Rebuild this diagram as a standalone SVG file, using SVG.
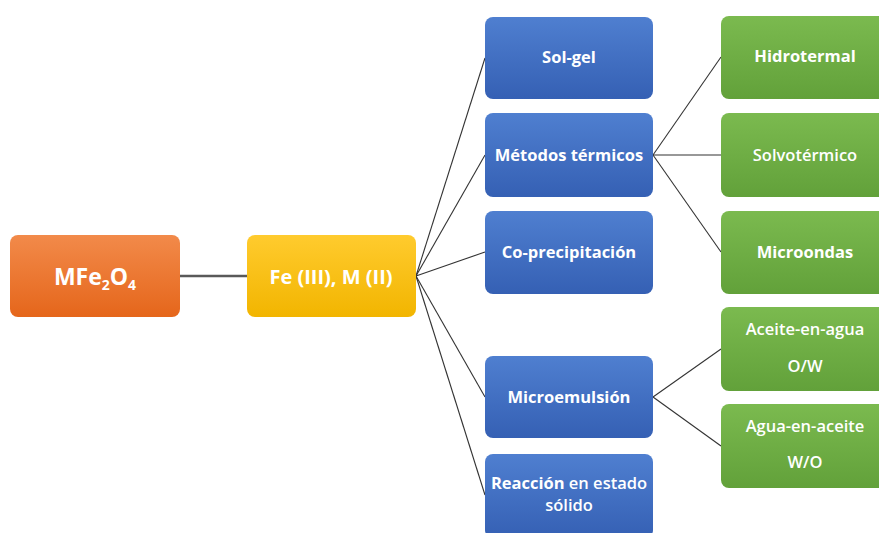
<svg xmlns="http://www.w3.org/2000/svg" width="879" height="533" viewBox="0 0 879 533">
<defs>
<linearGradient id="gO" x1="0" y1="0" x2="0" y2="1"><stop offset="0" stop-color="#F28A4A"/><stop offset="1" stop-color="#E5661B"/></linearGradient>
<linearGradient id="gY" x1="0" y1="0" x2="0" y2="1"><stop offset="0" stop-color="#FFCB2E"/><stop offset="1" stop-color="#F2B500"/></linearGradient>
<linearGradient id="gB" x1="0" y1="0" x2="0" y2="1"><stop offset="0" stop-color="#4F7FD0"/><stop offset="1" stop-color="#3560B4"/></linearGradient>
<linearGradient id="gG" x1="0" y1="0" x2="0" y2="1"><stop offset="0" stop-color="#7BBA4F"/><stop offset="1" stop-color="#62A13A"/></linearGradient>
<style>
.t{font-family:"Open Sans","Liberation Sans",sans-serif;font-weight:700;fill:#FFFFFF;text-anchor:middle;font-size:16.5px}
.n{font-weight:600}
.c{stroke:#333333;stroke-width:1.1;fill:none}
</style>
</defs>
<g id="connectors">
<line x1="180" y1="276" x2="247" y2="276" stroke="#595959" stroke-width="2.5"/>
<line class="c" x1="416" y1="276" x2="485" y2="58"/>
<line class="c" x1="416" y1="276" x2="485" y2="155"/>
<line class="c" x1="416" y1="276" x2="485" y2="252"/>
<line class="c" x1="416" y1="276" x2="485" y2="397"/>
<line class="c" x1="416" y1="276" x2="485" y2="495"/>
<line class="c" x1="653" y1="155" x2="721" y2="57"/>
<line class="c" x1="653" y1="155" x2="721" y2="155"/>
<line class="c" x1="653" y1="155" x2="721" y2="252"/>
<line class="c" x1="653" y1="397" x2="721" y2="349"/>
<line class="c" x1="653" y1="397" x2="721" y2="446"/>
</g>
<g id="mfe2o4">
<rect x="10" y="235" width="170" height="82" rx="8" fill="url(#gO)"/>
<text class="t" x="95" y="285" style="font-size:23px">MFe<tspan dy="5" style="font-size:14px">2</tspan><tspan dy="-5">O</tspan><tspan dy="5" style="font-size:14px">4</tspan></text>
</g>
<g id="fe">
<rect x="247" y="235" width="169" height="82" rx="8" fill="url(#gY)"/>
<text class="t" x="331" y="284" style="font-size:20px">Fe (III), M (II)</text>
</g>
<g id="solgel">
<rect x="485" y="17" width="168" height="82" rx="8" fill="url(#gB)"/>
<text class="t" x="569" y="63">Sol-gel</text>
</g>
<g id="metodos">
<rect x="485" y="113" width="168" height="84" rx="8" fill="url(#gB)"/>
<text class="t" x="569" y="161">Métodos térmicos</text>
</g>
<g id="coprecip">
<rect x="485" y="211" width="168" height="83" rx="8" fill="url(#gB)"/>
<text class="t" x="569" y="258">Co-precipitación</text>
</g>
<g id="microemulsion">
<rect x="485" y="356" width="168" height="82" rx="8" fill="url(#gB)"/>
<text class="t" x="569" y="403">Microemulsión</text>
</g>
<g id="reaccion">
<rect x="485" y="454" width="168" height="84" rx="8" fill="url(#gB)"/>
<text class="t" x="569" y="489">Reacción <tspan class="n">en estado</tspan></text>
<text class="t n" x="569" y="511">sólido</text>
</g>
<g id="hidrotermal">
<rect x="721" y="16" width="168" height="83" rx="8" fill="url(#gG)"/>
<text class="t" x="805" y="62">Hidrotermal</text>
</g>
<g id="solvotermico">
<rect x="721" y="113" width="168" height="84" rx="8" fill="url(#gG)"/>
<text class="t n" x="805" y="161">Solvotérmico</text>
</g>
<g id="microondas">
<rect x="721" y="211" width="168" height="83" rx="8" fill="url(#gG)"/>
<text class="t" x="805" y="258">Microondas</text>
</g>
<g id="aceite">
<rect x="721" y="307" width="168" height="84" rx="8" fill="url(#gG)"/>
<text class="t n" x="805" y="335">Aceite-en-agua</text>
<text class="t n" x="805" y="372">O/W</text>
</g>
<g id="agua">
<rect x="721" y="404" width="168" height="84" rx="8" fill="url(#gG)"/>
<text class="t n" x="805" y="432">Agua-en-aceite</text>
<text class="t n" x="805" y="468">W/O</text>
</g>
</svg>
